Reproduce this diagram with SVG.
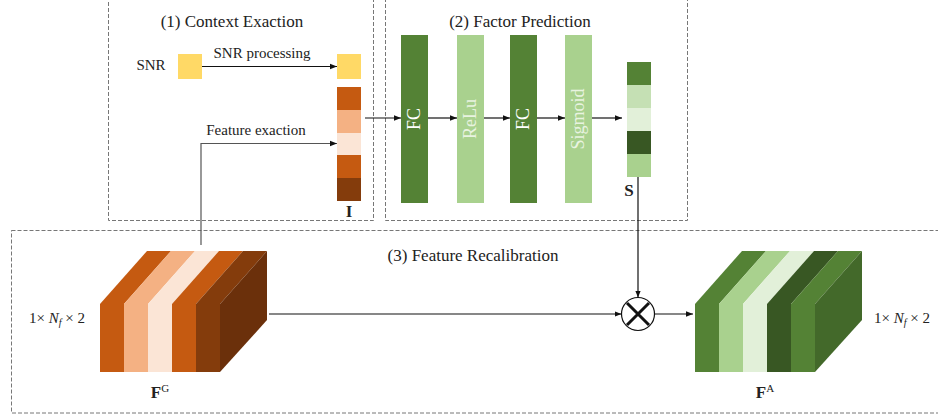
<svg xmlns="http://www.w3.org/2000/svg" width="938" height="418" viewBox="0 0 938 418" font-family="'Liberation Serif', 'Times New Roman', serif">
<style>
text{font-family:'Liberation Serif','Times New Roman',serif;fill:#222}
.t{font-size:17px}
.s{font-size:15px}
.b{font-weight:bold}
.box{fill:none;stroke:#777;stroke-width:1;stroke-dasharray:4 2}
.ln{fill:none;stroke:#111;stroke-width:1.2}
.vt{font-size:18px;fill:#fff}
</style>
<defs>
<marker id="ah" viewBox="0 0 10 10" refX="10" refY="5" markerWidth="7" markerHeight="7" orient="auto" markerUnits="userSpaceOnUse">
<path d="M0,1 L10,5 L0,9 z" fill="#111"/>
</marker>
</defs>
<rect fill="#fff" width="938" height="418"/>
<g id="frames">
<rect class="box" x="108.5" y="-1" width="265" height="221.5"/>
<rect class="box" x="385.5" y="-1" width="302" height="221.5"/>
<rect class="box" x="11.5" y="230.5" width="940" height="182.5"/>
<text class="t" x="232" y="27" text-anchor="middle">(1) Context Exaction</text>
<text class="t" x="520" y="27" text-anchor="middle">(2) Factor Prediction</text>
<text class="t" x="473" y="261" text-anchor="middle">(3) Feature Recalibration</text>
</g>
<g id="snr">
<text class="s" x="151" y="70" text-anchor="middle">SNR</text>
<rect x="178" y="54" width="24" height="25" fill="#FFD966"/>
</g>
<g id="snr-out">
<rect x="337" y="54" width="24" height="25" fill="#FFD966"/>
</g>
<g id="I">
<rect x="337" y="87" width="24" height="23" fill="#C55A11"/>
<rect x="337" y="110" width="24" height="23" fill="#F4B183"/>
<rect x="337" y="133" width="24" height="22" fill="#FBE5D6"/>
<rect x="337" y="155" width="24" height="23" fill="#C55A11"/>
<rect x="337" y="178" width="24" height="23" fill="#843C0C"/>
<text class="t b" x="349" y="217" text-anchor="middle">I</text>
</g>
<g id="fc1">
<rect x="401" y="35" width="27" height="168" fill="#548235"/>
<text class="vt" transform="translate(420,119) rotate(-90)" text-anchor="middle">FC</text>
</g>
<g id="relu">
<rect x="457" y="35" width="27" height="168" fill="#A9D18E"/>
<text class="vt" transform="translate(476,119) rotate(-90)" text-anchor="middle" style="fill:#E8F3E0">ReLu</text>
</g>
<g id="fc2">
<rect x="510" y="35" width="27" height="168" fill="#548235"/>
<text class="vt" transform="translate(529,119) rotate(-90)" text-anchor="middle">FC</text>
</g>
<g id="sigmoid">
<rect x="565" y="35" width="27" height="168" fill="#A9D18E"/>
<text class="vt" transform="translate(584,119) rotate(-90)" text-anchor="middle" style="fill:#E8F3E0">Sigmoid</text>
</g>
<g id="S">
<rect x="627" y="62" width="24" height="23" fill="#548235"/>
<rect x="627" y="85" width="24" height="23" fill="#C5E0B4"/>
<rect x="627" y="108" width="24" height="23" fill="#E2F0D9"/>
<rect x="627" y="131" width="24" height="23" fill="#385723"/>
<rect x="627" y="154" width="24" height="23" fill="#A9D18E"/>
<text class="t b" x="629" y="196" text-anchor="middle">S</text>
</g>
<g id="FG">
<polygon points="100,304 124,304 171,251 147,251" fill="#C55A11"/>
<polygon points="124,304 148,304 195,251 171,251" fill="#F4B183"/>
<polygon points="148,304 172,304 219,251 195,251" fill="#FBE5D6"/>
<polygon points="172,304 196,304 243,251 219,251" fill="#C55A11"/>
<polygon points="196,304 220,304 267,251 243,251" fill="#843C0C"/>
<rect x="100" y="304" width="24" height="68" fill="#C55A11"/>
<rect x="124" y="304" width="24" height="68" fill="#F4B183"/>
<rect x="148" y="304" width="24" height="68" fill="#FBE5D6"/>
<rect x="172" y="304" width="24" height="68" fill="#C55A11"/>
<rect x="196" y="304" width="24" height="68" fill="#843C0C"/>
<polygon points="220,304 267,251 267,320 220,372" fill="#6B300B"/>
<text class="s" x="57" y="323" text-anchor="middle">1× <tspan font-style="italic">N</tspan><tspan font-style="italic" font-size="10" dy="3">f</tspan><tspan dy="-3"> × 2</tspan></text>
<text class="t b" x="160" y="398" text-anchor="middle">F<tspan font-weight="normal" font-size="11" dy="-6">G</tspan></text>
</g>
<g id="mult">
<circle cx="638" cy="314" r="16.5" fill="#fff" stroke="#111" stroke-width="1.2"/>
<path d="M627,303 L649,325 M649,303 L627,325" stroke="#111" stroke-width="3"/>
</g>
<g id="FA">
<polygon points="695,304 719,304 766,251 742,251" fill="#548235"/>
<polygon points="719,304 743,304 790,251 766,251" fill="#A9D18E"/>
<polygon points="743,304 767,304 814,251 790,251" fill="#E2F0D9"/>
<polygon points="767,304 791,304 838,251 814,251" fill="#385723"/>
<polygon points="791,304 815,304 862,251 838,251" fill="#548235"/>
<rect x="695" y="304" width="24" height="68" fill="#548235"/>
<rect x="719" y="304" width="24" height="68" fill="#A9D18E"/>
<rect x="743" y="304" width="24" height="68" fill="#E2F0D9"/>
<rect x="767" y="304" width="24" height="68" fill="#385723"/>
<rect x="791" y="304" width="24" height="68" fill="#548235"/>
<polygon points="815,304 862,251 862,320 815,372" fill="#43692A"/>
<text class="s" x="902" y="323" text-anchor="middle">1× <tspan font-style="italic">N</tspan><tspan font-style="italic" font-size="10" dy="3">f</tspan><tspan dy="-3"> × 2</tspan></text>
<text class="t b" x="765" y="398" text-anchor="middle">F<tspan font-weight="normal" font-size="11" dy="-6">A</tspan></text>
</g>
<g id="connectors">
<path class="ln" d="M202,66.5 H337" marker-end="url(#ah)"/>
<text class="s" x="262" y="58" text-anchor="middle">SNR processing</text>
<path class="ln" d="M201,245 V143.5 H337" marker-end="url(#ah)" style="stroke:#555"/>
<text class="s" x="256" y="135" text-anchor="middle">Feature exaction</text>
<path class="ln" d="M365,118 H401" marker-end="url(#ah)"/>
<path class="ln" d="M428,118 H457" marker-end="url(#ah)"/>
<path class="ln" d="M484,118 H510" marker-end="url(#ah)"/>
<path class="ln" d="M537,118 H565" marker-end="url(#ah)"/>
<path class="ln" d="M592,118 H622" marker-end="url(#ah)"/>
<path class="ln" d="M638,177 V297.5" marker-end="url(#ah)"/>
<path class="ln" d="M269,314 H621.5" marker-end="url(#ah)"/>
<path class="ln" d="M654.5,314 H693" marker-end="url(#ah)"/>
</g>
</svg>
